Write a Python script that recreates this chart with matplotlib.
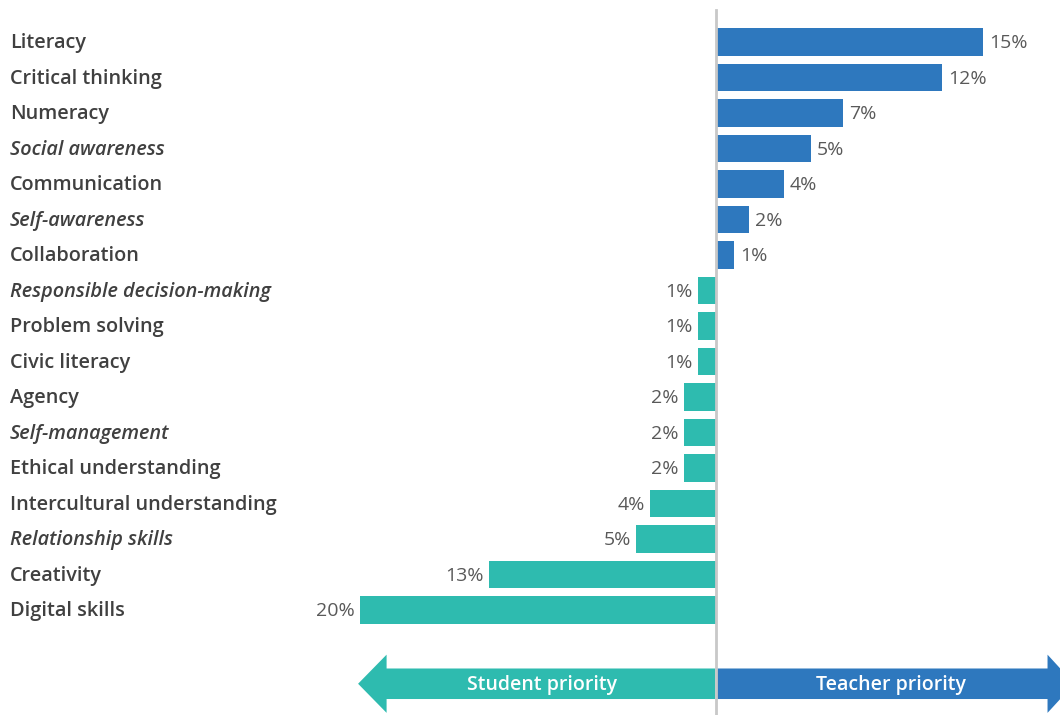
import matplotlib
matplotlib.use('Agg')
import matplotlib.pyplot as plt
from matplotlib.patches import Polygon

# --- DADOS ---
habilidades = ['Literacy', 'Critical thinking', 'Numeracy', 'Social awareness',
               'Communication', 'Self-awareness', 'Collaboration',
               'Responsible decision-making', 'Problem solving', 'Civic literacy',
               'Agency', 'Self-management', 'Ethical understanding',
               'Intercultural understanding', 'Relationship skills', 'Creativity',
               'Digital skills']
# positivo = prioridade do professor, negativo = prioridade do aluno
valores = [15.0, 12.7, 7.1, 5.3, 3.8, 1.85, 1.0,
           -1.0, -1.0, -1.0, -1.8, -1.8, -1.8, -3.7, -4.5, -12.75, -20.0]
rotulos = ['15%', '12%', '7%', '5%', '4%', '2%', '1%',
           '1%', '1%', '1%', '2%', '2%', '2%', '4%', '5%', '13%', '20%']
italicos = ['Social awareness', 'Self-awareness', 'Responsible decision-making',
            'Self-management', 'Relationship skills']

azul = '#2E78BE'
verde = '#2EBBAF'
fonte = ['Open Sans', 'DejaVu Sans']

fig = plt.figure(figsize=(10.6, 7.15), dpi=100)
ax = fig.add_axes([0, 0, 1, 1])
ax.set_xlim(-40.2, 19.3)
ax.set_ylim(18.96, -1.18)
ax.axis('off')

posicoes = list(range(len(habilidades)))
cores = [azul if v > 0 else verde for v in valores]
ax.barh(posicoes, valores, height=0.78, color=cores, zorder=2)

# linha central
ax.plot([0, 0], [-0.9, 18.96], color='#C8C8C8', lw=2, zorder=3)

# nomes das habilidades (lado esquerdo)
for i, nome in enumerate(habilidades):
    estilo = 'italic' if nome in italicos else 'normal'
    ax.text(-39.65, i + 0.04, nome, ha='left', va='center', fontsize=14.3,
            fontweight='semibold', style=estilo, color='#404040', family=fonte)

# valores na ponta das barras
for i, (v, r) in enumerate(zip(valores, rotulos)):
    if v > 0:
        ax.text(v + 0.35, i + 0.04, r, ha='left', va='center', fontsize=14,
                color='#595959', family=fonte)
    else:
        ax.text(v - 0.3, i + 0.04, r, ha='right', va='center', fontsize=14,
                color='#595959', family=fonte)

# setas de prioridade
yc = 18.08
corpo = 0.43
cabeca = 0.82
seta_aluno = Polygon([(-0.05, yc - corpo), (-18.5, yc - corpo), (-18.5, yc - cabeca),
                      (-20.1, yc), (-18.5, yc + cabeca), (-18.5, yc + corpo),
                      (-0.05, yc + corpo)], closed=True, color=verde, lw=0, zorder=2)
seta_prof = Polygon([(0.05, yc - corpo), (18.6, yc - corpo), (18.6, yc - cabeca),
                     (20.1, yc), (18.6, yc + cabeca), (18.6, yc + corpo),
                     (0.05, yc + corpo)], closed=True, color=azul, lw=0, zorder=2)
ax.add_patch(seta_aluno)
ax.add_patch(seta_prof)
ax.text(-9.8, yc + 0.03, 'Student priority', ha='center', va='center', fontsize=14,
        fontweight='semibold', color='white', family=fonte, zorder=4)
ax.text(9.8, yc + 0.03, 'Teacher priority', ha='center', va='center', fontsize=14,
        fontweight='semibold', color='white', family=fonte, zorder=4)

fig.savefig('out.png', dpi=100)
